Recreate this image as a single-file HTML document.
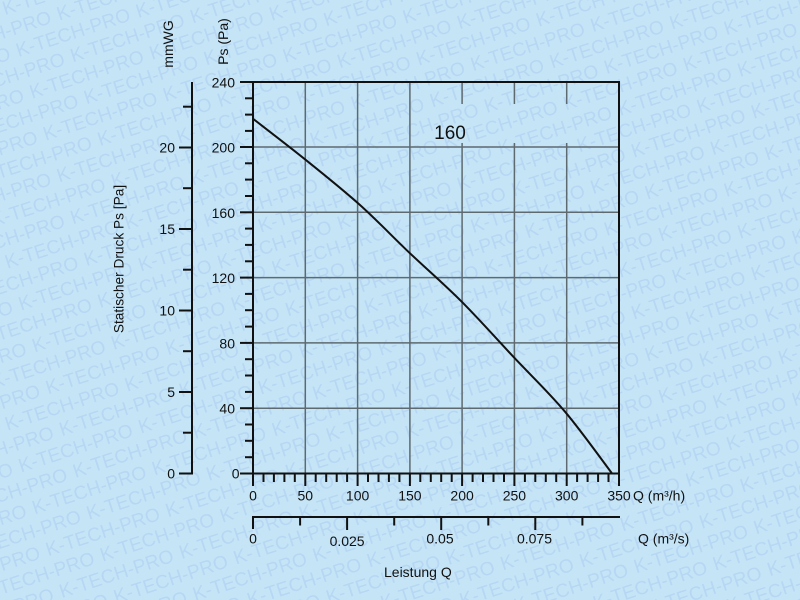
<!DOCTYPE html>
<html>
<head>
<meta charset="utf-8">
<style>
html,body{margin:0;padding:0;background:#c5e5f7;}
svg{display:block;}
text{font-family:"Liberation Sans",Arial,sans-serif;fill:#111;}
</style>
</head>
<body>
<svg width="800" height="600" viewBox="0 0 800 600" xmlns="http://www.w3.org/2000/svg">
<defs>
<pattern id="wm" width="126" height="44" patternUnits="userSpaceOnUse" patternTransform="rotate(-18)">
<text x="0" y="16" font-size="19" textLength="119" lengthAdjust="spacingAndGlyphs" style="fill:#b6d6f3">K-TECH-PRO</text>
<text x="50" y="38" font-size="19" textLength="119" lengthAdjust="spacingAndGlyphs" style="fill:#b6d6f3">K-TECH-PRO</text>
<text x="-76" y="38" font-size="19" textLength="119" lengthAdjust="spacingAndGlyphs" style="fill:#b6d6f3">K-TECH-PRO</text>
</pattern>
</defs>
<rect x="0" y="0" width="800" height="600" fill="#c5e5f7"/>
<rect x="0" y="0" width="800" height="600" fill="url(#wm)"/>

<!-- grid verticals -->
<g stroke="#5e6a70" stroke-width="1.5">
<line x1="305.3" y1="82" x2="305.3" y2="473.5"/>
<line x1="357.6" y1="82" x2="357.6" y2="473.5"/>
<line x1="409.9" y1="82" x2="409.9" y2="473.5"/>
<line x1="462.1" y1="82" x2="462.1" y2="104"/>
<line x1="462.1" y1="143" x2="462.1" y2="473.5"/>
<line x1="514.4" y1="82" x2="514.4" y2="104"/>
<line x1="514.4" y1="143" x2="514.4" y2="473.5"/>
<line x1="566.7" y1="82" x2="566.7" y2="104"/>
<line x1="566.7" y1="143" x2="566.7" y2="473.5"/>
<!-- grid horizontals -->
<line x1="253" y1="147.0" x2="619" y2="147.0"/>
<line x1="253" y1="212.3" x2="619" y2="212.3"/>
<line x1="253" y1="277.6" x2="619" y2="277.6"/>
<line x1="253" y1="342.9" x2="619" y2="342.9"/>
<line x1="253" y1="408.2" x2="619" y2="408.2"/>
</g>

<!-- main axes -->
<g stroke="#111" stroke-width="2" fill="none">
<line x1="240" y1="82" x2="620" y2="82"/>
<line x1="619" y1="81" x2="619" y2="486"/>
<line x1="253" y1="81" x2="253" y2="486"/>
<line x1="240" y1="473.5" x2="620" y2="473.5"/>
<!-- Ps major ticks -->
<line x1="240" y1="147.0" x2="253" y2="147.0"/>
<line x1="240" y1="212.3" x2="253" y2="212.3"/>
<line x1="240" y1="277.6" x2="253" y2="277.6"/>
<line x1="240" y1="342.9" x2="253" y2="342.9"/>
<line x1="240" y1="408.2" x2="253" y2="408.2"/>
<!-- Ps minor ticks -->
<line x1="245" y1="98.3" x2="253" y2="98.3"/>
<line x1="245" y1="114.6" x2="253" y2="114.6"/>
<line x1="245" y1="130.9" x2="253" y2="130.9"/>
<line x1="245" y1="163.3" x2="253" y2="163.3"/>
<line x1="245" y1="179.6" x2="253" y2="179.6"/>
<line x1="245" y1="196.0" x2="253" y2="196.0"/>
<line x1="245" y1="228.6" x2="253" y2="228.6"/>
<line x1="245" y1="244.9" x2="253" y2="244.9"/>
<line x1="245" y1="261.3" x2="253" y2="261.3"/>
<line x1="245" y1="293.9" x2="253" y2="293.9"/>
<line x1="245" y1="310.2" x2="253" y2="310.2"/>
<line x1="245" y1="326.6" x2="253" y2="326.6"/>
<line x1="245" y1="359.2" x2="253" y2="359.2"/>
<line x1="245" y1="375.5" x2="253" y2="375.5"/>
<line x1="245" y1="391.9" x2="253" y2="391.9"/>
<line x1="245" y1="424.5" x2="253" y2="424.5"/>
<line x1="245" y1="440.8" x2="253" y2="440.8"/>
<line x1="245" y1="457.2" x2="253" y2="457.2"/>
<!-- x major ticks -->
<line x1="305.3" y1="473.5" x2="305.3" y2="486"/>
<line x1="357.6" y1="473.5" x2="357.6" y2="486"/>
<line x1="409.9" y1="473.5" x2="409.9" y2="486"/>
<line x1="462.1" y1="473.5" x2="462.1" y2="486"/>
<line x1="514.4" y1="473.5" x2="514.4" y2="486"/>
<line x1="566.7" y1="473.5" x2="566.7" y2="486"/>
<!-- x minor ticks -->
<line x1="263.5" y1="473.5" x2="263.5" y2="482"/>
<line x1="273.9" y1="473.5" x2="273.9" y2="482"/>
<line x1="284.4" y1="473.5" x2="284.4" y2="482"/>
<line x1="294.8" y1="473.5" x2="294.8" y2="482"/>
<line x1="315.7" y1="473.5" x2="315.7" y2="482"/>
<line x1="326.2" y1="473.5" x2="326.2" y2="482"/>
<line x1="336.7" y1="473.5" x2="336.7" y2="482"/>
<line x1="347.1" y1="473.5" x2="347.1" y2="482"/>
<line x1="368.0" y1="473.5" x2="368.0" y2="482"/>
<line x1="378.5" y1="473.5" x2="378.5" y2="482"/>
<line x1="388.9" y1="473.5" x2="388.9" y2="482"/>
<line x1="399.4" y1="473.5" x2="399.4" y2="482"/>
<line x1="420.3" y1="473.5" x2="420.3" y2="482"/>
<line x1="430.8" y1="473.5" x2="430.8" y2="482"/>
<line x1="441.2" y1="473.5" x2="441.2" y2="482"/>
<line x1="451.7" y1="473.5" x2="451.7" y2="482"/>
<line x1="472.6" y1="473.5" x2="472.6" y2="482"/>
<line x1="483.0" y1="473.5" x2="483.0" y2="482"/>
<line x1="493.5" y1="473.5" x2="493.5" y2="482"/>
<line x1="504.0" y1="473.5" x2="504.0" y2="482"/>
<line x1="524.9" y1="473.5" x2="524.9" y2="482"/>
<line x1="535.3" y1="473.5" x2="535.3" y2="482"/>
<line x1="545.8" y1="473.5" x2="545.8" y2="482"/>
<line x1="556.2" y1="473.5" x2="556.2" y2="482"/>
<line x1="577.1" y1="473.5" x2="577.1" y2="482"/>
<line x1="587.6" y1="473.5" x2="587.6" y2="482"/>
<line x1="598.1" y1="473.5" x2="598.1" y2="482"/>
<line x1="608.5" y1="473.5" x2="608.5" y2="482"/>

<!-- mmWG axis -->
<line x1="192" y1="82" x2="192" y2="474.5"/>
<line x1="179" y1="473.5" x2="192" y2="473.5"/>
<line x1="179" y1="392.0" x2="192" y2="392.0"/>
<line x1="179" y1="310.5" x2="192" y2="310.5"/>
<line x1="179" y1="229.0" x2="192" y2="229.0"/>
<line x1="179" y1="147.5" x2="192" y2="147.5"/>
<line x1="183" y1="432.7" x2="192" y2="432.7"/>
<line x1="183" y1="351.2" x2="192" y2="351.2"/>
<line x1="183" y1="269.7" x2="192" y2="269.7"/>
<line x1="183" y1="188.2" x2="192" y2="188.2"/>
<line x1="183" y1="106.7" x2="192" y2="106.7"/>

<!-- m3/s axis -->
<line x1="252" y1="517" x2="620" y2="517"/>
<line x1="253" y1="517" x2="253" y2="529"/>
<line x1="347.1" y1="517" x2="347.1" y2="530"/>
<line x1="441.2" y1="517" x2="441.2" y2="530"/>
<line x1="535.3" y1="517" x2="535.3" y2="530"/>
<line x1="300.1" y1="517" x2="300.1" y2="525.5"/>
<line x1="394.2" y1="517" x2="394.2" y2="525.5"/>
<line x1="488.3" y1="517" x2="488.3" y2="525.5"/>
<line x1="582.4" y1="517" x2="582.4" y2="525.5"/>
</g>

<!-- curve -->
<path d="M253.3,119 C261.9,125.7 287.2,145.0 305,159.3 C322.8,173.6 342.5,189.3 360,205 C377.5,220.7 393.0,237.2 410,253.3 C427.0,269.4 444.5,284.5 461.7,301.7 C478.9,318.9 496.1,338.4 513.3,356.7 C530.5,375.0 548.6,392.3 565,411.7 C581.4,431.1 603.9,462.8 611.7,473" fill="none" stroke="#111" stroke-width="2" stroke-linejoin="round"/>

<!-- Ps labels -->
<g font-size="14" text-anchor="end">
<text x="235" y="87.5">240</text>
<text x="235" y="152.5">200</text>
<text x="235" y="217.8">160</text>
<text x="235" y="283.1">120</text>
<text x="235" y="348.4">80</text>
<text x="235" y="413.7">40</text>
<text x="239.5" y="478.5">0</text>
<!-- mmWG labels -->
<text x="175" y="478.5">0</text>
<text x="175" y="397.2">5</text>
<text x="175" y="315.7">10</text>
<text x="175" y="234.2">15</text>
<text x="175" y="152.7">20</text>
</g>

<!-- x labels -->
<g font-size="14" text-anchor="middle">
<text x="253" y="500.5">0</text>
<text x="305.3" y="500.5">50</text>
<text x="357.6" y="500.5">100</text>
<text x="409.9" y="500.5">150</text>
<text x="462.1" y="500.5">200</text>
<text x="514.4" y="500.5">250</text>
<text x="566.7" y="500.5">300</text>
<text x="619" y="500.5">350</text>
<text x="253" y="543.5">0</text>
<text x="347.1" y="546">0.025</text>
<text x="440" y="543.5">0.05</text>
<text x="534.5" y="543.5">0.075</text>
</g>
<text x="633" y="500.5" font-size="14">Q (m³/h)</text>
<text x="638" y="543.5" font-size="14">Q (m³/s)</text>
<text x="384" y="577" font-size="14">Leistung Q</text>

<text x="450" y="139" font-size="19" text-anchor="middle">160</text>

<text transform="translate(123.5,259) rotate(-90)" font-size="13.7" text-anchor="middle">Statischer Druck Ps [Pa]</text>
<text transform="translate(173,44) rotate(-90)" font-size="14" text-anchor="middle">mmWG</text>
<text transform="translate(228,41.5) rotate(-90)" font-size="14" text-anchor="middle">Ps (Pa)</text>
</svg>
</body>
</html>
